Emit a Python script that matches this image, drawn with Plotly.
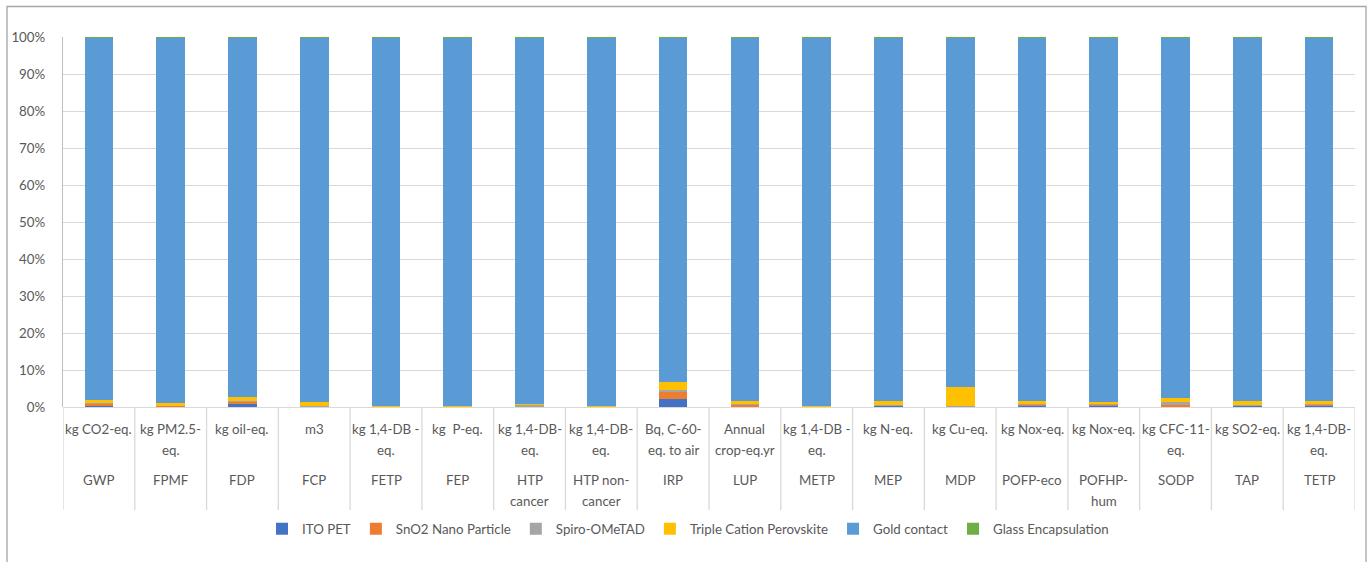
import plotly.graph_objects as go

# ---- data ----
categories = ["GWP", "FPMF", "FDP", "FCP", "FETP", "FEP", "HTP cancer", "HTP non-cancer",
              "IRP", "LUP", "METP", "MEP", "MDP", "POFP-eco", "POFHP-hum", "SODP", "TAP", "TETP"]
# displayed (wrapped) category names, lines separated by "|"
category_labels = ["GWP", "FPMF", "FDP", "FCP", "FETP", "FEP", "HTP|cancer", "HTP non-|cancer",
                   "IRP", "LUP", "METP", "MEP", "MDP", "POFP-eco", "POFHP-|hum", "SODP", "TAP", "TETP"]
unit_labels = ["kg CO2-eq.", "kg PM2.5-|eq.", "kg oil-eq.", "m3", "kg 1,4-DB -|eq.", "kg  P-eq.",
               "kg 1,4-DB-|eq.", "kg 1,4-DB-|eq.", "Bq, C-60-|eq. to air", "Annual|crop-eq.yr",
               "kg 1,4-DB -|eq.", "kg N-eq.", "kg Cu-eq.", "kg Nox-eq.", "kg Nox-eq.",
               "kg CFC-11-|eq.", "kg SO2-eq.", "kg 1,4-DB-|eq."]

ito_pet = [0.4, 0.2, 0.8, 0.1, 0.05, 0.05, 0.1, 0.05, 2.2, 0.2, 0.05, 0.3, 0.05, 0.3, 0.3, 0.2, 0.3, 0.4]
sno2 = [0.5, 0.1, 0.6, 0.1, 0.05, 0.05, 0.05, 0.05, 2.1, 0.5, 0.05, 0.1, 0.05, 0.3, 0.3, 0.3, 0.2, 0.2]
spiro = [0.3, 0.2, 0.1, 0.1, 0.05, 0.1, 0.4, 0.1, 0.25, 0.2, 0.05, 0.2, 0.05, 0.2, 0.3, 0.8, 0.1, 0.2]
triple = [0.6, 0.5, 1.2, 1.0, 0.2, 0.05, 0.15, 0.05, 2.2, 0.7, 0.05, 0.9, 5.3, 0.7, 0.5, 1.0, 0.9, 0.7]
gold = [98.1, 98.9, 97.2, 98.6, 99.6, 99.7, 99.25, 99.7, 93.15, 98.3, 99.75, 98.4, 94.5, 98.4, 98.5,
        97.6, 98.4, 98.4]
glass = [0.1, 0.1, 0.1, 0.1, 0.05, 0.05, 0.05, 0.05, 0.1, 0.1, 0.05, 0.1, 0.05, 0.1, 0.1, 0.1, 0.1, 0.1]

series = [
    ("ITO PET", ito_pet, "#4472C4"),
    ("SnO2 Nano Particle", sno2, "#ED7D31"),
    ("Spiro-OMeTAD", spiro, "#A5A5A5"),
    ("Triple Cation Perovskite", triple, "#FFC000"),
    ("Gold contact", gold, "#5B9BD5"),
    ("Glass Encapsulation", glass, "#70AD47"),
]

FONT = "Lato"
TXT = "#595959"
GRID = "#D9D9D9"

fig = go.Figure()
for name, vals, col in series:
    fig.add_trace(go.Bar(name=name, x=categories, y=vals, marker=dict(color=col, line=dict(width=0))))

# plot-area geometry in pixels (for paper conversions of label rows)
W, H = 1370, 562
ml, mr, mt, mb = 63, 15, 37, 155
ph = H - mt - mb


def py(pix):
    """pixel y (from top) -> paper y"""
    return (H - mb - pix) / ph


def px(pix):
    return (pix - ml) / (W - ml - mr)


annotations = []
line_h = 21
for i, cat in enumerate(categories):
    for k, ln in enumerate(unit_labels[i].split("|")):
        annotations.append(dict(x=cat, xref="x", y=py(429 + k * line_h), yref="paper",
                                text=ln, showarrow=False, xanchor="center", yanchor="middle",
                                font=dict(family=FONT, size=13.3, color=TXT)))
    for k, ln in enumerate(category_labels[i].split("|")):
        annotations.append(dict(x=cat, xref="x", y=py(480 + k * line_h), yref="paper",
                                text=ln, showarrow=False, xanchor="center", yanchor="middle",
                                font=dict(family=FONT, size=13.3, color=TXT)))

shapes = []
n = len(categories)
for i in range(n + 1):
    shapes.append(dict(type="line", xref="x", yref="paper", x0=i - 0.5, x1=i - 0.5,
                       y0=0, y1=py(510), line=dict(color=GRID, width=1.3), layer="below"))
# outer chart border
shapes.append(dict(type="rect", xref="paper", yref="paper", x0=px(7), x1=px(1366),
                   y0=py(600), y1=py(6.5), line=dict(color="#A6A6A6", width=1.3),
                   fillcolor="rgba(0,0,0,0)"))

fig.update_layout(
    barmode="stack",
    bargap=0.6,
    width=W, height=H,
    margin=dict(l=ml, r=mr, t=mt, b=mb, pad=0),
    paper_bgcolor="white", plot_bgcolor="white",
    font=dict(family=FONT, size=13.3, color=TXT),
    showlegend=True,
    legend=dict(orientation="h", x=px(688), xanchor="center", y=py(529), yanchor="middle",
                traceorder="normal", font=dict(family=FONT, size=13.3, color=TXT),
                itemwidth=30, bgcolor="rgba(0,0,0,0)"),
    annotations=annotations,
    shapes=shapes,
    xaxis=dict(type="category", range=[-0.5, n - 0.5], showticklabels=False, showgrid=False,
               zeroline=False, showline=False, ticks=""),
    yaxis=dict(range=[0, 100], tickvals=list(range(0, 101, 10)),
               ticktext=[f"{v}%" for v in range(0, 101, 10)], showgrid=True, gridcolor=GRID,
               gridwidth=1.3, zeroline=True, zerolinecolor=GRID, zerolinewidth=1.3,
               showline=True, linecolor="#BFBFBF", linewidth=1.3, ticks="", ticklabelstandoff=14,
               tickfont=dict(family=FONT, size=13.3, color=TXT)),
)

fig.write_html("out.html")
